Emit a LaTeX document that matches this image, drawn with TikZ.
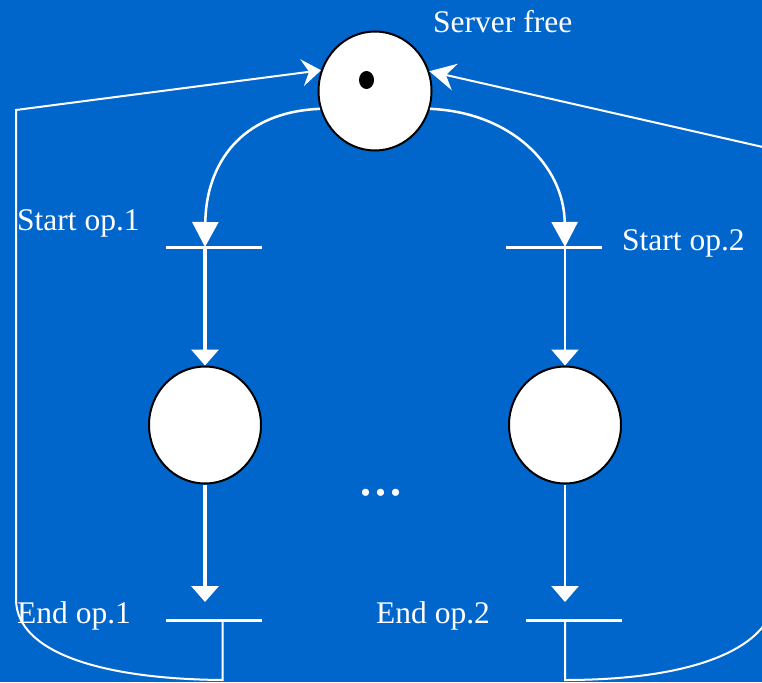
\documentclass[tikz,border=0pt]{standalone}
\usepackage{fontspec}
\setmainfont{Liberation Serif}
\usetikzlibrary{arrows.meta,shapes.geometric}
\definecolor{bgblue}{HTML}{0066CC}
\tikzset{
  place/.style={ellipse, draw=black, line width=2pt, fill=white, inner sep=0pt,
                minimum width=112pt, minimum height=117pt},
  token/.style={ellipse, fill=black, inner sep=0pt, minimum width=15pt, minimum height=18pt},
  tbar/.style={rectangle, fill=white, inner sep=0pt, minimum height=2.4pt},
  lbl/.style={text=white, inner sep=0pt, anchor=base west, font=\fontsize{31.5}{31.5}\selectfont},
  conn/.style={draw=white, line width=2.5pt},
  bigtip/.style={-{Triangle[width=26pt,length=25pt]}},
  midtip/.style={-{Triangle[width=27pt,length=16pt]}}
}
\begin{document}
\begin{tikzpicture}[x=1pt,y=-1pt]
\path[clip] (0,0) rectangle (762,682);
\fill[bgblue] (0,0) rectangle (762,682);

% places
\node[place, minimum width=113pt, minimum height=119pt] (ps) at (375,91) {};
\node[token] (tok) at (366.5,80) {};
\node[place] (p1) at (205,425) {};
\node[place] (p2) at (565,425) {};

% transitions
\node[tbar, minimum width=96pt] (ts1) at (214,247.5) {};
\node[tbar, minimum width=96pt] (ts2) at (554,247.5) {};
\node[tbar, minimum width=96pt] (te1) at (214,620.5) {};
\node[tbar, minimum width=96pt] (te2) at (574,620.5) {};
\coordinate (ts1c) at (205,247);
\coordinate (ts2c) at (565,247);
\coordinate (te1a) at (205,620);
\coordinate (te2a) at (565,620);
\coordinate (te1b) at (222.5,621);
\coordinate (te2b) at (565,621);

% server free -> start operations
\draw[conn, bigtip] (ps.198) .. controls (240,112) and (206,165) .. (ts1c);
\draw[conn, bigtip] (ps.342) .. controls (510,112) and (564,165) .. (ts2c);

% start -> busy places
\draw[conn, line width=3.5pt, midtip] (ts1c) -- (p1.north);
\draw[conn, midtip] (ts2c) -- (p2.north);

% busy places -> end operations
\draw[conn, line width=3.5pt, midtip, shorten >=18pt] (p1.south) -- (te1a);
\draw[conn, midtip, shorten >=18pt] (p2.south) -- (te2a);

% end operations return the server
\draw[draw=white, line width=2pt, -{Stealth[length=19pt,width=27pt,inset=7pt]}]
  (te1b) -- (222.5,680) .. controls (100,679) and (17,652) .. (16,600)
  -- (16,110) -- (ps.159);
\draw[draw=white, line width=2pt, -{Stealth[length=26pt,width=27pt,inset=9pt]}]
  (te2b) -- (565,680) .. controls (690,680) and (776,650) .. (776,590)
  -- (776,150) -- (ps.20);

% labels
\node[lbl] (lserver) at (433,33) {Server free};
\node[lbl] (lstart1) at (17,230) {Start op.1};
\node[lbl] (lstart2) at (622,250) {Start op.2};
\node[lbl] (lend1) at (17,623) {End op.1};
\node[lbl] (lend2) at (376,623) {End op.2};
\node[text=white, inner sep=0pt, anchor=base, font=\fontsize{60}{60}\selectfont] (ldots) at (381,495.5) {...};
\end{tikzpicture}
\end{document}
